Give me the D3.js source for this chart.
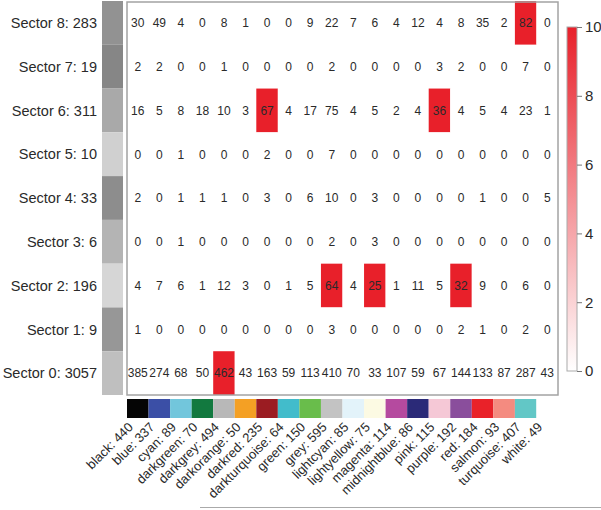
<!DOCTYPE html>
<html>
<head>
<meta charset="utf-8">
<script src="https://cdn.jsdelivr.net/npm/d3@7"></script>
<style>
  body { margin: 0; background: #fff; }
  svg { display: block; font-family: "Liberation Sans", Arial, sans-serif; }
</style>
</head>
<body>
<svg id="chart"></svg>
<script>
// module colours (columns) and their sizes
const modules = ["black", "blue", "cyan", "darkgreen", "darkgrey", "darkorange", "darkred",
  "darkturquoise", "green", "grey", "lightcyan", "lightyellow", "magenta", "midnightblue",
  "pink", "purple", "red", "salmon", "turquoise", "white"];
const moduleSizes = [440, 337, 89, 70, 494, 50, 235, 64, 150, 595, 85, 75, 114, 86, 115, 192, 184, 93, 407, 49];
const moduleSwatch = ["#050505", "#3b4fa6", "#72c6dc", "#12793f", "#b8b8b8", "#f4a024", "#9b1c22",
  "#42bccb", "#69bd4b", "#c3c3c3", "#e3f3fa", "#fcfae3", "#b54a9f", "#2b2a78",
  "#f5c8d6", "#8a4e9c", "#e92229", "#f48b80", "#62c7c6", "#ffffff"];

// sectors (rows), listed top to bottom
const sectors = ["Sector 8", "Sector 7", "Sector 6", "Sector 5", "Sector 4", "Sector 3", "Sector 2", "Sector 1", "Sector 0"];
const sectorSizes = [283, 19, 311, 10, 33, 6, 196, 9, 3057];
const sectorShade = ["#929292", "#868686", "#a9a9a9", "#d0d0d0", "#8d8d8d", "#b4b4b4", "#d6d6d6", "#979797", "#bfbfbf"];

// overlap counts, one row per sector
const counts = [
  [30, 49, 4, 0, 8, 1, 0, 0, 9, 22, 7, 6, 4, 12, 4, 8, 35, 2, 82, 0],
  [2, 2, 0, 0, 1, 0, 0, 0, 0, 2, 0, 0, 0, 0, 3, 2, 0, 0, 7, 0],
  [16, 5, 8, 18, 10, 3, 67, 4, 17, 75, 4, 5, 2, 4, 36, 4, 5, 4, 23, 1],
  [0, 0, 1, 0, 0, 0, 2, 0, 0, 7, 0, 0, 0, 0, 0, 0, 0, 0, 0, 0],
  [2, 0, 1, 1, 1, 0, 3, 0, 6, 10, 0, 3, 0, 0, 0, 0, 1, 0, 0, 5],
  [0, 0, 1, 0, 0, 0, 0, 0, 0, 2, 0, 3, 0, 0, 0, 0, 0, 0, 0, 0],
  [4, 7, 6, 1, 12, 3, 0, 1, 5, 64, 4, 25, 1, 11, 5, 32, 9, 0, 6, 0],
  [1, 0, 0, 0, 0, 0, 0, 0, 0, 3, 0, 0, 0, 0, 0, 2, 1, 0, 2, 0],
  [385, 274, 68, 50, 462, 43, 163, 59, 113, 410, 70, 33, 107, 59, 67, 144, 133, 87, 287, 43]
];

// -log10(p) colour score, capped at 10
const scores = [
  [0, 0, 0, 0, 0, 0, 0, 0, 0, 0, 0, 0, 0, 0, 0, 0, 0, 0, 10, 0],
  [0, 0, 0, 0, 0, 0, 0, 0, 0, 0, 0, 0, 0, 0, 0, 0, 0, 0, 0, 0],
  [0, 0, 0, 0, 0, 0, 10, 0, 0, 0, 0, 0, 0, 0, 10, 0, 0, 0, 0, 0],
  [0, 0, 0, 0, 0, 0, 0, 0, 0, 0, 0, 0, 0, 0, 0, 0, 0, 0, 0, 0],
  [0, 0, 0, 0, 0, 0, 0, 0, 0, 0, 0, 0, 0, 0, 0, 0, 0, 0, 0, 0],
  [0, 0, 0, 0, 0, 0, 0, 0, 0, 0, 0, 0, 0, 0, 0, 0, 0, 0, 0, 0],
  [0, 0, 0, 0, 0, 0, 0, 0, 0, 10, 0, 10, 0, 0, 0, 10, 0, 0, 0, 0],
  [0, 0, 0, 0, 0, 0, 0, 0, 0, 0, 0, 0, 0, 0, 0, 0, 0, 0, 0, 0],
  [0, 0, 0, 0, 10, 0, 0, 0, 0, 0, 0, 0, 0, 0, 0, 0, 0, 0, 0, 0]
];
const legendTicks = [0, 2, 4, 6, 8, 10];

const W = 601, H = 510;
const plot = { left: 127, right: 558, top: 1, bottom: 395 };

const svg = d3.select("#chart").attr("width", W).attr("height", H);

const x = d3.scaleBand().domain(modules).range([plot.left, plot.right]);
const y = d3.scaleBand().domain(sectors).range([plot.top, plot.bottom]);
const color = d3.scaleLinear().domain([0, 10]).range(["#ffffff", "#e8202a"]).clamp(true);

// flatten into cells
const cells = [];
sectors.forEach((s, i) => {
  modules.forEach((m, j) => {
    cells.push({ sector: s, module: m, n: counts[i][j], score: scores[i][j] });
  });
});

// heatmap cells
svg.append("g").selectAll("rect")
  .data(cells)
  .join("rect")
  .attr("x", d => x(d.module))
  .attr("y", d => y(d.sector))
  .attr("width", x.bandwidth())
  .attr("height", y.bandwidth())
  .attr("fill", d => color(d.score));

// frame
svg.append("rect")
  .attr("x", plot.left).attr("y", plot.top + 1)
  .attr("width", plot.right - plot.left).attr("height", plot.bottom - plot.top - 1)
  .attr("fill", "none").attr("stroke", "#a3a3a3").attr("stroke-width", 1.5);

// cell labels
svg.append("g").selectAll("text")
  .data(cells)
  .join("text")
  .attr("x", d => x(d.module) + x.bandwidth() / 2)
  .attr("y", d => y(d.sector) + y.bandwidth() / 2)
  .attr("dy", "0.36em")
  .attr("text-anchor", "middle")
  .attr("font-size", "12px")
  .attr("fill", "#2a2a2a")
  .text(d => d.n);

// sector side bar
svg.append("g").selectAll("rect")
  .data(sectors)
  .join("rect")
  .attr("x", 102).attr("width", 21)
  .attr("y", d => y(d))
  .attr("height", y.bandwidth())
  .attr("fill", (d, i) => sectorShade[i]);

// sector labels
svg.append("g").selectAll("text")
  .data(sectors)
  .join("text")
  .attr("x", 97)
  .attr("y", d => y(d) + y.bandwidth() / 2)
  .attr("dy", "0.36em")
  .attr("text-anchor", "end")
  .attr("font-size", "14.5px")
  .attr("fill", "#2a2a2a")
  .text((d, i) => `${d}: ${sectorSizes[i]}`);

// module colour band
svg.append("g").selectAll("rect")
  .data(modules)
  .join("rect")
  .attr("x", d => x(d))
  .attr("y", 399)
  .attr("width", x.bandwidth())
  .attr("height", 19)
  .attr("fill", (d, i) => moduleSwatch[i]);

// module labels, rotated
svg.append("g").selectAll("text")
  .data(modules)
  .join("text")
  .attr("transform", d => `translate(${x(d) + x.bandwidth() / 2 - 4},${428}) rotate(-45)`)
  .attr("text-anchor", "end")
  .attr("font-size", "13px")
  .attr("fill", "#2a2a2a")
  .text((d, i) => `${d}: ${moduleSizes[i]}`);

// colour legend
const ly = d3.scaleLinear().domain([0, 10]).range([371, 27]);
const defs = svg.append("defs");
const grad = defs.append("linearGradient")
  .attr("id", "legendGrad")
  .attr("x1", 0).attr("y1", 1).attr("x2", 0).attr("y2", 0);
grad.append("stop").attr("offset", "0%").attr("stop-color", color(0));
grad.append("stop").attr("offset", "100%").attr("stop-color", color(10));

svg.append("rect")
  .attr("x", 567).attr("y", ly(10))
  .attr("width", 10).attr("height", ly(0) - ly(10))
  .attr("fill", "url(#legendGrad)")
  .attr("stroke", "#aaa").attr("stroke-width", 1);

const legendAxis = svg.append("g")
  .attr("transform", "translate(577,0)")
  .call(d3.axisRight(ly).tickValues(legendTicks).tickSize(5).tickPadding(3).tickSizeOuter(0));
legendAxis.select(".domain").remove();
legendAxis.selectAll("line").attr("stroke", "#777");
legendAxis.selectAll("text")
  .attr("font-size", "15px")
  .attr("fill", "#2a2a2a")
  .style("font-family", "Liberation Sans, Arial, sans-serif");

// faint bottom rule
svg.append("line")
  .attr("x1", 200).attr("x2", W)
  .attr("y1", 507.5).attr("y2", 507.5)
  .attr("stroke", "#aaa");
</script>
</body>
</html>
